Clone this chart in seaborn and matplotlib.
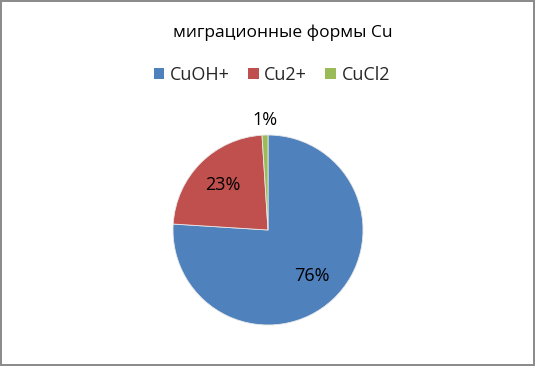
import matplotlib
matplotlib.use("Agg")
import matplotlib.pyplot as plt
import seaborn as sns
import numpy as np
from matplotlib.patches import Patch

sns.set_theme(style="white")
plt.rcParams['font.family'] = ['Open Sans', 'DejaVu Sans']

title = "миграционные формы Cu"
categories = ["CuOH+", "Cu2+", "CuCl2"]
values = [76, 23, 1]
colors = ["#4F81BD", "#C0504D", "#9BBB59"]

fig = plt.figure(figsize=(5.35, 3.66), dpi=100)
fig.patch.set_facecolor("white")
fig.patch.set_edgecolor("#8c8c8c")
fig.patch.set_linewidth(1.5)
ax = fig.add_axes([173/535, 41/366, 190/535, 190/366])

wedges, texts, autotexts = ax.pie(
    values, colors=colors, startangle=90, counterclock=False,
    autopct=lambda p: f"{p:.0f}%", pctdistance=0.67,
    wedgeprops=dict(linewidth=0.6, edgecolor="#e8e8e8"),
    textprops=dict(fontsize=13, color="black"))
ax.set_xlim(-1, 1)
ax.set_ylim(-1, 1)
ax.set_aspect("equal")

# move the small-slice label outside
w = wedges[2]
ang = np.deg2rad((w.theta1 + w.theta2) / 2)
autotexts[2].set_position((1.16 * np.cos(ang), 1.16 * np.sin(ang)))

fig.text(0.529, 1 - 33/366, title, ha="center", va="center", fontsize=12.5, color="black")

handles = [Patch(facecolor=c, edgecolor="none") for c in colors]
fig.legend(handles, categories, loc="center", bbox_to_anchor=(0.508, 1 - 75/366),
           ncol=3, frameon=False, fontsize=13, handlelength=0.6, handleheight=0.6,
           handletextpad=0.3, columnspacing=1.0)

fig.savefig("out.png", dpi=100, facecolor=fig.get_facecolor(), edgecolor=fig.get_edgecolor())
